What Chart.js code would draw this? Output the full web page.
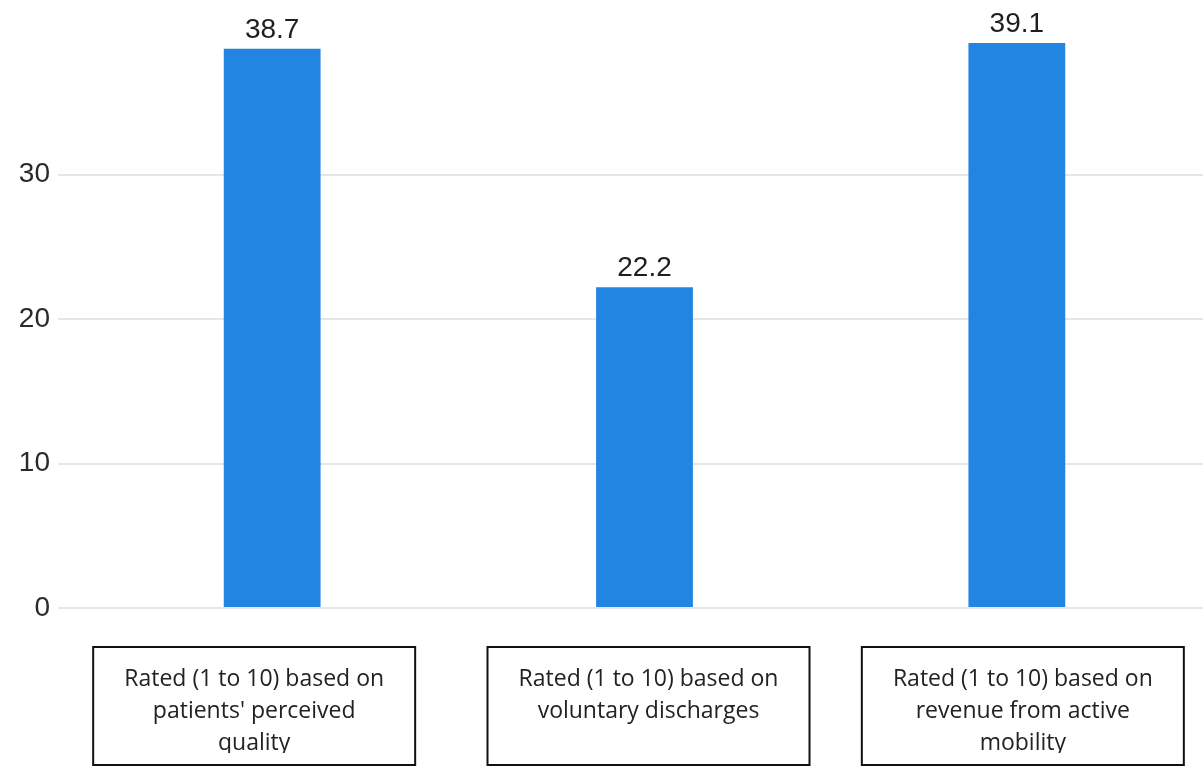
<!DOCTYPE html>
<html>
<head>
<meta charset="utf-8">
<script src="https://cdn.jsdelivr.net/npm/chart.js@4/dist/chart.umd.min.js"></script>
<style>
  body { margin: 0; background: #fff; }
  #wrap { width: 1203px; height: 771px; position: relative; }
</style>
</head>
<body>
<div id="wrap"><canvas id="graph_ID"></canvas></div>
<script>
// chart data
var categories = [
  ['Rated (1 to 10) based on', "patients' perceived", 'quality'],
  ['Rated (1 to 10) based on', 'voluntary discharges'],
  ['Rated (1 to 10) based on', 'revenue from active', 'mobility']
];
var scores = [38.7, 22.2, 39.1];
var yTicks = [0, 10, 20, 30];

// value on top of each bar
var valueLabels = {
  id: 'valueLabels',
  afterDatasetsDraw: function(chart) {
    var ctx = chart.ctx;
    var meta = chart.getDatasetMeta(0);
    ctx.save();
    ctx.font = '28px "Liberation Sans", Arial, sans-serif';
    ctx.fillStyle = '#1e1e1e';
    ctx.textAlign = 'center';
    ctx.textBaseline = 'alphabetic';
    meta.data.forEach(function(bar, i) {
      ctx.fillText(String(scores[i]), bar.x, bar.y - 11);
    });
    ctx.restore();
  }
};

// boxed category labels under the axis
var boxedLabels = {
  id: 'boxedLabels',
  afterDraw: function(chart) {
    var ctx = chart.ctx;
    var xs = chart.scales.x;
    var nudge = [-18, 4, 6];
    var w = 322, h = 118, top = 647;
    ctx.save();
    categories.forEach(function(lines, i) {
      var cx = xs.getPixelForTick(i) + nudge[i];
      ctx.lineWidth = 2;
      ctx.strokeStyle = '#111';
      ctx.strokeRect(cx - w / 2, top, w, h);
      ctx.save();
      ctx.beginPath();
      ctx.rect(cx - w / 2, top, w, 106);
      ctx.clip();
      ctx.font = '23px "Open Sans", "Noto Sans", sans-serif';
      ctx.fillStyle = '#222';
      ctx.textAlign = 'center';
      ctx.textBaseline = 'alphabetic';
      lines.forEach(function(t, k) {
        ctx.fillText(t, cx, top + 39 + k * 32);
      });
      ctx.restore();
    });
    ctx.restore();
  }
};

var mychart = document.getElementById('graph_ID').getContext('2d');
var graphique = new Chart(mychart, {
  type: 'bar',
  data: {
    labels: categories,
    datasets: [{
      data: scores,
      backgroundColor: '#2385E2',
      borderWidth: 0,
      barPercentage: 0.26,
      categoryPercentage: 1
    }]
  },
  options: {
    responsive: true,
    maintainAspectRatio: false,
    animation: false,
    layout: { padding: { top: 30, left: 0, right: 0, bottom: 0 } },
    plugins: {
      legend: { display: false },
      tooltip: { enabled: false }
    },
    scales: {
      x: {
        grid: { display: false },
        border: { display: false },
        ticks: { display: false },
        afterFit: function(s) { s.height = 163; }
      },
      y: {
        min: 0,
        max: 40,
        border: { display: false },
        grid: {
          color: '#e6e6e6',
          lineWidth: 2,
          tickLength: 28,
          tickColor: '#e6e6e6'
        },
        ticks: {
          stepSize: 10,
          padding: 8,
          color: '#2a2a2a',
          font: { family: '"Liberation Sans", Arial, sans-serif', size: 28 }
        },
        afterBuildTicks: function(s) {
          s.ticks = yTicks.map(function(v) { return { value: v }; });
        },
        afterFit: function(s) { s.width = 86; }
      }
    }
  },
  plugins: [valueLabels, boxedLabels]
});
</script>
</body>
</html>
